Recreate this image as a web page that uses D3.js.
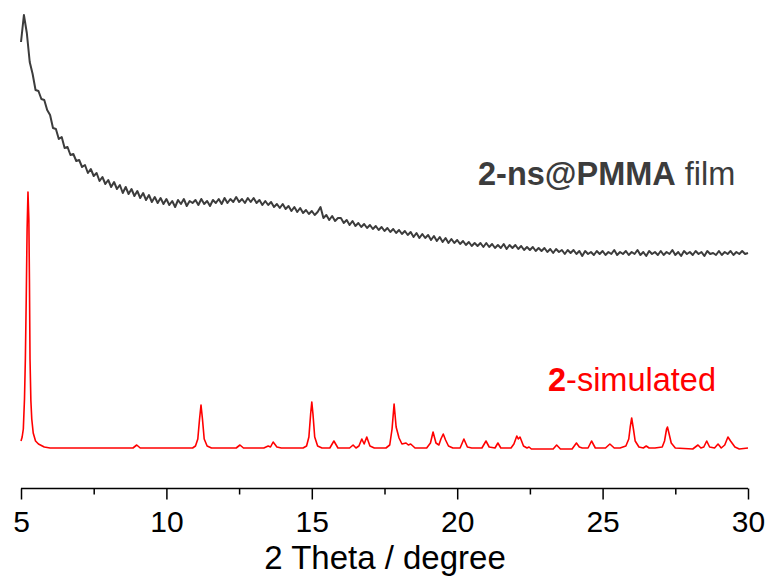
<!DOCTYPE html>
<html>
<head>
<meta charset="utf-8">
<script src="https://cdn.jsdelivr.net/npm/d3@7/dist/d3.min.js"></script>
<style>
  html, body { margin: 0; padding: 0; background: #fff; }
  svg { display: block; font-family: Arial, "Liberation Sans", sans-serif; }
</style>
</head>
<body>
<svg id="chart" width="772" height="578"></svg>
<script>
// ---- data ----
const xMin = 5, xMax = 30;
const majorTicks = [5, 10, 15, 20, 25, 30];
const minorTicks = [7.5, 12.5, 17.5, 22.5, 27.5];
const xTitle = "2 Theta / degree";

// film pattern: 2-theta grid start/step and intensity (a.u.)
const filmStart = 5.0, filmStep = 0.1;
const filmIntensity = [
  446,473,455,426,414,398,397,389,388,378,
  373,360,359,349,351,340,341,333,334,327,
  328,321,323,315,319,312,315,307,311,304,
  308,301,306,299,303,295,301,294,299,292,
  297,290,295,288,293,286,291,285,290,284,
  289,283,287,281,288,284,289,282,287,285,
  288,283,289,284,287,282,288,285,289,284,
  290,285,289,286,291,286,289,285,290,286,
  290,285,288,283,287,283,286,281,284,280,
  284,279,282,277,281,276,280,275,278,274,
  277,273,276,281,270,273,268,272,267,270,
  270,265,268,263,267,262,265,261,264,260,
  263,259,262,258,261,257,260,256,259,255,
  258,254,257,253,256,251,255,250,254,250,
  253,248,252,247,251,246,250,245,249,245,
  248,244,247,243,246,242,245,242,245,241,
  245,241,244,240,243,240,244,239,243,240,
  243,239,242,238,241,238,241,237,240,237,
  240,236,239,235,239,236,238,234,238,235,
  238,234,237,232,237,234,236,233,237,234,
  237,233,236,234,238,233,236,234,237,233,
  236,234,238,233,236,232,237,234,236,233,
  237,233,236,234,238,233,236,232,237,234,
  236,233,237,234,236,232,237,234,235,233,
  237,233,236,234,237,233,236,234,237,234,
  235
];

// simulated pattern: [2-theta, intensity]
const simTheta = [
  5.00,5.04,5.08,5.12,5.15,5.18,5.21,5.24,5.27,5.29,5.31,5.34,5.37,5.42,5.50,5.60,5.80,6.00,
  8.85,8.98,9.10,
  10.90,11.00,11.08,11.14,11.19,11.24,11.30,11.40,11.55,
  12.40,12.53,12.65,
  13.35,13.50,13.58,13.67,13.80,13.95,
  14.70,14.82,14.90,14.96,15.00,15.04,15.10,15.20,15.35,
  15.62,15.76,15.90,
  16.30,16.42,16.52,16.62,16.72,16.80,16.89,17.00,17.15,
  17.55,17.68,17.76,17.83,17.90,18.00,18.10,18.24,18.32,18.40,18.55,
  18.95,19.08,19.17,19.27,19.37,19.44,19.52,19.60,19.70,19.85,
  20.10,20.23,20.35,20.50,
  20.85,20.99,21.10,21.30,21.40,21.50,
  21.85,21.95,22.05,22.10,22.16,22.28,22.40,22.47,22.55,
  23.30,23.42,23.55,
  23.95,24.10,24.20,24.30,24.50,24.62,24.75,
  25.10,25.25,25.40,25.60,
  25.80,25.90,25.95,26.00,26.06,26.12,26.25,26.40,26.50,26.60,26.80,
  27.05,27.13,27.20,27.23,27.28,27.36,27.50,
  28.10,28.28,28.38,28.48,28.58,28.68,28.85,28.97,29.08,
  29.20,29.31,29.40,29.55,29.70,30.00
];
const simIntensity = [
  8,12,20,50,90,150,220,257,230,170,90,48,30,16,8,5,2,1,
  1,4,1,
  1,3,10,30,44,30,10,3,1,
  1,4,1,
  1,3,2,7,2,1,
  1,3,12,35,47,35,12,3,1,
  1,8,1,
  1,4,1,3,10,5,12,3,1,
  1,4,20,45,22,11,5,6,4,5,1,
  1,6,17,6,4,10,15,9,3,1,
  1,10,2,1,
  1,8,2,1,6,1,
  1,5,13,10,12,3,1,2,0,
  0,4,0,
  0,6,2,1,1,8,1,
  1,5,1,1,
  3,10,22,31,20,8,2,1,3,1,1,
  2,8,20,22,16,6,1,
  0,4,1,2,8,2,1,5,1,
  4,12,8,2,0,1
];

const filmLabelBold = "2-ns@PMMA", filmLabelRest = " film";
const simLabelBold = "2", simLabelRest = "-simulated";

// ---- drawing ----
const svg = d3.select("#chart");
const axisY = 488.5;
const x = d3.scaleLinear().domain([xMin, xMax]).range([21, 748]);
const y = d3.scaleLinear().domain([0, 480]).range([488, 8]);
const simOffset = 39;

const filmData = filmIntensity.map((v, i) => [filmStart + i * filmStep, v]);
const simData = simTheta.map((t, i) => [t, simIntensity[i] + simOffset]);

const line = d3.line().x(d => x(d[0])).y(d => y(d[1]));

svg.append("path").datum(simData)
  .attr("d", line).attr("fill", "none")
  .attr("stroke", "#ff0000").attr("stroke-width", 1.6).attr("stroke-linejoin", "round");

svg.append("path").datum(filmData)
  .attr("d", line).attr("fill", "none")
  .attr("stroke", "#3c3c3c").attr("stroke-width", 2).attr("stroke-linejoin", "round");

// axis
const gMinor = svg.append("g").attr("transform", `translate(0,${axisY})`)
  .call(d3.axisBottom(x).tickValues(minorTicks).tickSize(6).tickFormat(""));
const gMajor = svg.append("g").attr("transform", `translate(0,${axisY})`)
  .call(d3.axisBottom(x).tickValues(majorTicks).tickSize(11).tickPadding(11).tickFormat(d3.format("d")));
[gMinor, gMajor].forEach(g => {
  g.select(".domain").attr("stroke", "#000").attr("stroke-width", 1.5);
  g.selectAll(".tick line").attr("stroke", "#000").attr("stroke-width", 1.5);
});
gMinor.select(".domain").remove();
gMajor.select(".domain").attr("d", `M${x(xMin)},0H${x(xMax)}`);
gMajor.selectAll(".tick text").attr("font-size", 30).attr("fill", "#000")
  .attr("font-family", "Arial, 'Liberation Sans', sans-serif");

svg.append("text").attr("x", 385).attr("y", 569)
  .attr("text-anchor", "middle").attr("font-size", 33).attr("fill", "#000")
  .text(xTitle);

// labels
const t1 = svg.append("text").attr("x", 478).attr("y", 185)
  .attr("font-size", 32.5).attr("fill", "#3c3c3c");
t1.append("tspan").attr("font-weight", "bold").text(filmLabelBold);
t1.append("tspan").text(filmLabelRest);

const t2 = svg.append("text").attr("x", 548).attr("y", 391)
  .attr("font-size", 32.5).attr("fill", "#ff0000");
t2.append("tspan").attr("font-weight", "bold").text(simLabelBold);
t2.append("tspan").text(simLabelRest);
</script>
</body>
</html>
